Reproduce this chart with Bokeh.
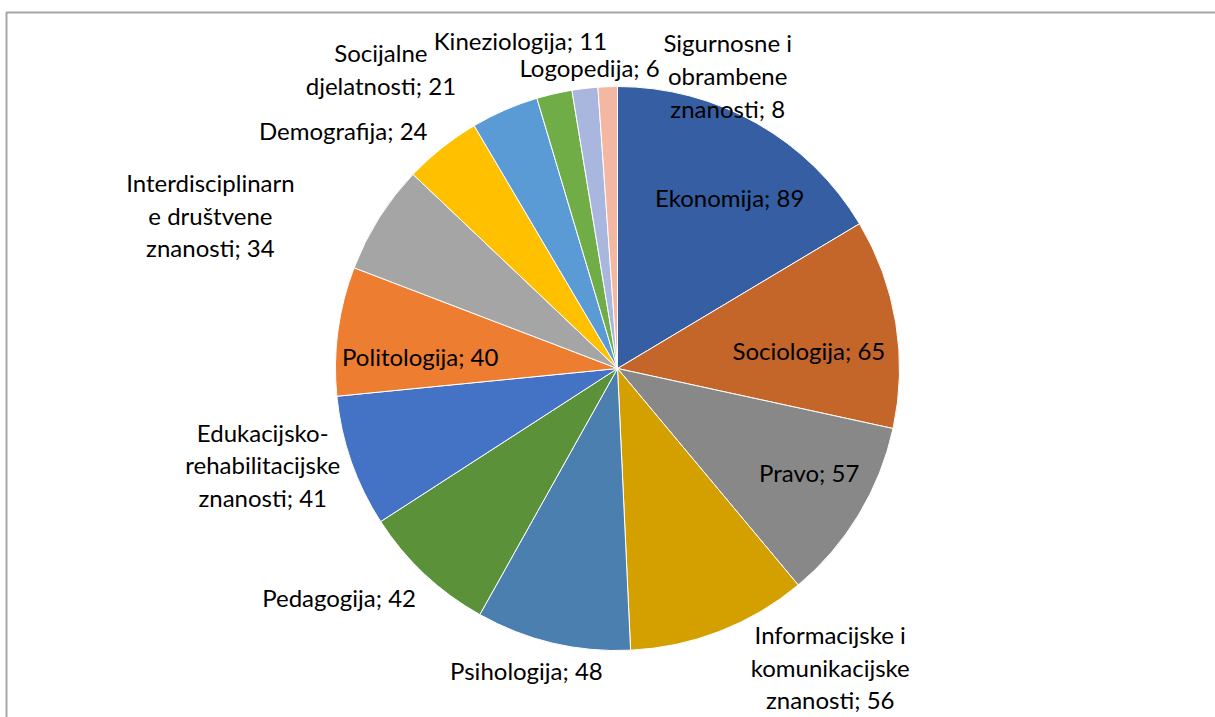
import math
from bokeh.plotting import figure
from bokeh.models import Range1d, ColumnDataSource
from bokeh.core.properties import value
from bokeh.embed import file_html
from bokeh.resources import INLINE

# ---- data (clockwise from 12 o'clock) ----
categories = [
    "Ekonomija", "Sociologija", "Pravo",
    "Informacijske i komunikacijske znanosti", "Psihologija", "Pedagogija",
    "Edukacijsko-rehabilitacijske znanosti", "Politologija",
    "Interdisciplinarne društvene znanosti", "Demografija",
    "Socijalne djelatnosti", "Kineziologija",
    "Sigurnosne i obrambene znanosti", "Logopedija",
]
values = [89, 65, 57, 56, 48, 42, 41, 40, 34, 24, 21, 11, 8, 6]
# label text as wrapped in the chart
wrapped_names = [
    "Ekonomija", "Sociologija", "Pravo",
    "Informacijske i\nkomunikacijske\nznanosti", "Psihologija", "Pedagogija",
    "Edukacijsko-\nrehabilitacijske\nznanosti", "Politologija",
    "Interdisciplinarn\ne društvene\nznanosti", "Demografija",
    "Socijalne\ndjelatnosti", "Kineziologija",
    "Sigurnosne i\nobrambene\nznanosti", "Logopedija",
]
colors = [
    "#355EA3", "#C4652A", "#888888", "#D4A000", "#4A7FB0", "#5A9139",
    "#4472C4", "#ED7D31", "#A5A5A5", "#FFC000", "#5B9BD5", "#70AD47",
    "#A9B6DD", "#F4B8A2",
]

# ---- layout / style ----
W, H = 1215, 717
CX, CY, R = 617, 349, 282
inside = [True, True, True, False, False, False, False, True,
          False, False, False, False, False, False]
# pixel nudges of labels (x right, y down) from the radial anchor
nudges = [(12, 6), (-9, 15), (18, -1), (88, -22), (-12, -33), (-43, -22),
          (-30, -17), (4, 15), (-116, 30), (-60, 31), (-99, 16), (-20, 7),
          (150, 49), (-16, 43)]

total = float(sum(values))
starts, ends, lx, ly, texts = [], [], [], [], []
cum = 0.0
for i, v in enumerate(values):
    a0 = 2 * math.pi * cum / total
    a1 = 2 * math.pi * (cum + v) / total
    starts.append(math.pi / 2 - a0)
    ends.append(math.pi / 2 - a1)
    mid = (a0 + a1) / 2
    f = 0.72 if inside[i] else 1.22
    nx, ny = nudges[i]
    lx.append(CX + R * f * math.sin(mid) + nx)
    ly.append(CY + R * f * math.cos(mid) - ny)
    texts.append(f"{wrapped_names[i]}; {v}")
    cum += v

src = ColumnDataSource(dict(cat=categories, val=values, start=starts, end=ends,
                            color=colors))
lsrc = ColumnDataSource(dict(x=lx, y=ly, text=texts))

p = figure(width=W, height=H, x_range=Range1d(0, W), y_range=Range1d(0, H),
           output_backend="svg", toolbar_location=None, min_border=0,
           x_axis_type=None, y_axis_type=None)
p.grid.visible = False
p.outline_line_color = None
p.background_fill_color = "white"
p.border_fill_color = "white"

# chart area border (top and left visible)
p.line(x=[6, 6, W + 5], y=[-10, H - 12, H - 12], line_color="#A6A6A6", line_width=2)

p.wedge(x=CX, y=CY, radius=R, start_angle="start", end_angle="end",
        direction="clock", fill_color="color", line_color="white",
        line_width=1, source=src)

p.text(x="x", y="y", text="text", source=lsrc, text_align="center",
       text_baseline="middle", text_font=value("Lato"),
       text_font_size="24px", text_color="#000000", text_line_height=1.13)

open("out.html", "w").write(file_html(p, INLINE))
